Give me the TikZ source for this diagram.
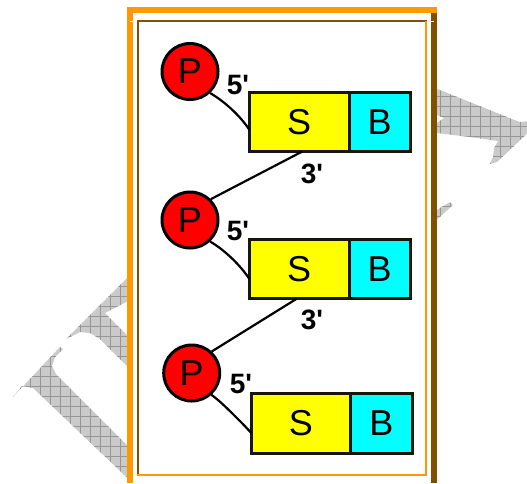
\documentclass[tikz,border=0pt]{standalone}
\usepackage{fontspec}
\setmainfont{Liberation Sans}
\usetikzlibrary{calc}

\definecolor{frameorange}{RGB}{255,153,0}
\definecolor{framebrown}{RGB}{128,80,0}
\definecolor{pred}{RGB}{255,0,0}
\definecolor{syellow}{RGB}{255,255,0}
\definecolor{bcyan}{RGB}{0,255,255}
\definecolor{markfill}{RGB}{202,202,202}
\definecolor{markline}{RGB}{150,150,150}
\definecolor{edgedark}{RGB}{22,22,12}

\begin{document}
\begin{tikzpicture}[x=1pt,y=-1pt,
  phos/.style={circle, draw=black, line width=3pt, fill=pred,
    minimum size=56pt, inner sep=0pt, font=\fontsize{36}{36}\selectfont},
  sugar/.style={rectangle, draw=edgedark, line width=3pt, fill=syellow,
    minimum width=99.5pt, minimum height=59pt, inner sep=0pt, outer sep=0pt,
    font=\fontsize{36}{36}\selectfont},
  base/.style={sugar, fill=bcyan, minimum width=61.5pt},
  endlbl/.style={font=\bfseries\fontsize{28}{28}\selectfont, inner sep=0pt},
  bond/.style={draw=black, line width=2.2pt},
]
\useasboundingbox (0,0) rectangle (527,483);

% hatched watermark letters behind the panel
\begin{scope}
  \clip (13,397) -- (60,347) -- (63,349) -- (55,357) -- (52,366) -- (56,374)
        -- (140,458) -- (140,490) -- (33,388) -- (22,386) -- cycle
        (66,339) -- (140,265) -- (140,295) -- (105,313) -- (140,348)
        -- (140,379) -- (100,339) -- (90,333) -- (80,332) -- (70,337) -- cycle
        (425,84) -- (512,119) -- (520,122) -- (530,121) -- (530,131)
        -- (497,162) -- (490,164) -- (493,157) -- (494,148) -- (498,141)
        -- (470,137) -- (437,133) -- (430,133) -- (430,123) -- (437,123)
        -- (444,118) -- (437,115) -- (430,115) -- cycle
        (430,214) -- (450,202) -- (453,205) -- (430,226) -- cycle;
  \fill[markfill] (0,0) rectangle (527,483);
  \foreach \k in {0,...,52}
    \draw[markline, line width=0.6pt] (\k*10+0.5,0) -- (\k*10+0.5,483);
  \foreach \k in {0,...,48}
    \draw[markline, line width=0.6pt] (0,\k*10+6.5) -- (527,\k*10+6.5);
\end{scope}

% white panel
\fill[white] (133,13) rectangle (431,483);

% outer groove border
\fill[frameorange] (127,7) rectangle (133,483);
\fill[framebrown] (431,13) rectangle (437,483);
\fill[frameorange] (127,7) rectangle (437,13);
\draw[white, line width=1pt] (130,21.5) -- (133,21.5);
\draw[white, line width=1pt] (431,21.5) -- (434,21.5);

% inner border
\fill[framebrown] (137,20) rectangle (427,22);
\fill[framebrown] (137,20) rectangle (139,476);
\fill[frameorange] (425,21) rectangle (427,476);
\fill[frameorange] (137,474) rectangle (427,476);

% phosphates
\node[phos] (p1) at (190,71.5) {P};
\node[phos] (p2) at (190,220) {P};
\node[phos] (p3) at (191.7,373) {P};

% sugars and bases
\node[sugar] (s1) at (299.25,122) {S};
\node[base, anchor=west] (b1) at (s1.east) {B};
\node[sugar] (s2) at (299.25,269.2) {S};
\node[base, anchor=west] (b2) at (s2.east) {B};
\node[sugar, minimum height=60pt] (s3) at (301,423) {S};
\node[base, minimum height=60pt, anchor=west] (b3) at (s3.east) {B};

% strand ends
\node[endlbl] (f1) at (238,85) {5\textquotesingle};
\node[endlbl] (f2) at (238,231) {5\textquotesingle};
\node[endlbl] (f3) at (241,384) {5\textquotesingle};
\node[endlbl] (t1) at (312,174) {3\textquotesingle};
\node[endlbl] (t2) at (312,320) {3\textquotesingle};

% phosphate to sugar (5') bonds
\draw[bond] (p1.-47) .. controls +(14,8) and +(-9,-14) .. ([yshift=-8pt]s1.west);
\draw[bond] (p2.-47) .. controls +(14,8) and +(-9,-14) .. ([yshift=-10pt]s2.west);
\draw[bond] (p3.-48) .. controls +(8,5) and +(-8,-9) .. ([yshift=-10pt]s3.west);

% sugar to next phosphate (3') bonds
\draw[bond] ([xshift=3pt]s1.south) -- (p2.45);
\draw[bond] ([xshift=-2.5pt]s2.south) -- (p3.47);
\end{tikzpicture}
\end{document}
